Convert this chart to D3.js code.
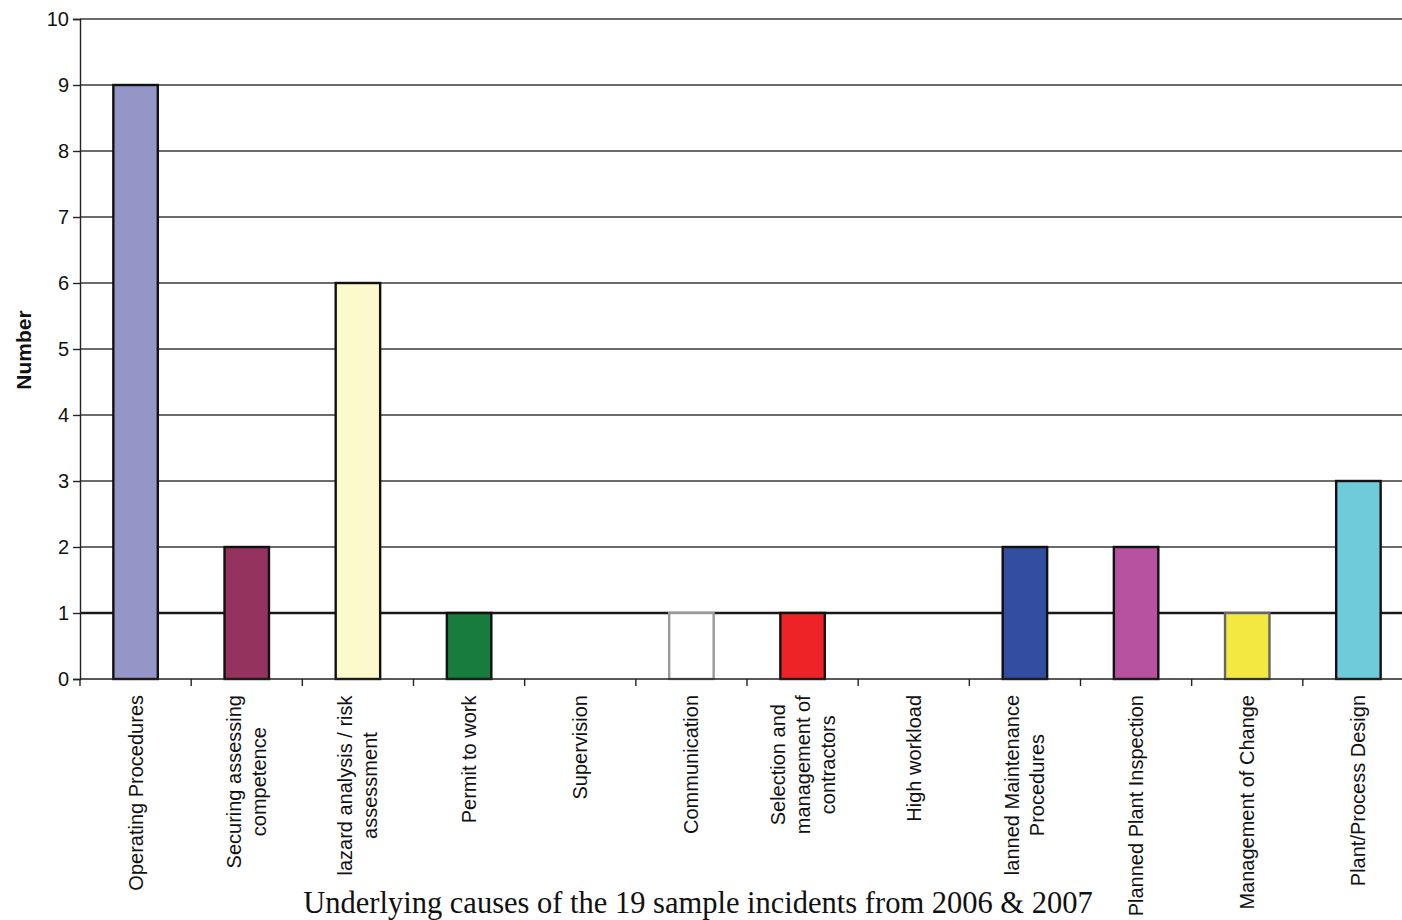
<!DOCTYPE html>
<html><head><meta charset="utf-8">
<script src="https://cdn.jsdelivr.net/npm/d3@7"></script>
<style>body{margin:0;background:#fff}svg{display:block}</style>
</head><body>
<script>
const categories = [
  ["Operating Procedures"],
  ["Securing assessing","competence"],
  ["lazard analysis / risk","assessment"],
  ["Permit to work"],
  ["Supervision"],
  ["Communication"],
  ["Selection and","management of","contractors"],
  ["High workload"],
  ["lanned Maintenance","Procedures"],
  ["Planned Plant Inspection"],
  ["Management of Change"],
  ["Plant/Process Design"]
];
const values = [9, 2, 6, 1, 0, 1, 1, 0, 2, 2, 1, 3];
const colors = ["#9595c8","#95335f","#fcfacc","#177c3d","#ffffff","#ffffff","#ee2328","#ffffff","#334ea0","#b652a0","#f2e841","#6fcbd9"];
const strokes = ["#111","#111","#111","#111","#111","#999","#111","#111","#111","#111","#666","#111"];
const yTicks = [0,1,2,3,4,5,6,7,8,9,10];
const yLabel = "Number";
const title = "Underlying causes of the 19 sample incidents from 2006 & 2007";

const W = 1402, H = 920;
const m = {l:80, t:19, b:241};
const plotRight = 1414; // plot continues slightly past the visible edge
const svg = d3.select("body").append("svg").attr("width", W).attr("height", H);

const xs = d3.scaleBand().domain(d3.range(categories.length)).range([m.l, plotRight]);
const y = d3.scaleLinear().domain([0, 10]).range([H - m.b, m.t]);

// gridlines
svg.append("g").selectAll("line").data(yTicks.filter(d => d > 0)).join("line")
  .attr("x1", m.l).attr("x2", W).attr("y1", d => y(d)).attr("y2", d => y(d))
  .attr("stroke", d => d === 1 ? "#1a1a1a" : "#3a3a3a").attr("stroke-width", d => d === 1 ? 2.4 : 1.4);

// bars
svg.append("g").selectAll("rect").data(values).join("rect")
  .attr("x", (d, i) => xs(i) + xs.bandwidth() * 0.3)
  .attr("width", xs.bandwidth() * 0.4)
  .attr("y", d => y(d)).attr("height", d => y(0) - y(d))
  .attr("fill", (d, i) => colors[i]).attr("stroke", (d, i) => strokes[i]).attr("stroke-width", 2.4)
  .style("display", d => d > 0 ? null : "none");

// y axis
const ya = svg.append("g").attr("transform", `translate(${m.l},0)`)
  .call(d3.axisLeft(y).tickValues(yTicks).tickSize(7).tickPadding(4).tickFormat(d3.format("d")));
ya.select(".domain").attr("stroke", "#222").attr("stroke-width", 1.4);
ya.selectAll(".tick line").attr("stroke", "#222").attr("stroke-width", 1.4);
ya.selectAll(".tick text").attr("font-family", "Liberation Sans, Arial, sans-serif").attr("font-size", 20).attr("fill", "#111");

// x axis line + ticks at band boundaries
svg.append("line").attr("x1", m.l).attr("x2", W).attr("y1", y(0)).attr("y2", y(0)).attr("stroke", "#222").attr("stroke-width", 1.5);
svg.append("g").selectAll("line").data(d3.range(categories.length)).join("line")
  .attr("x1", i => xs(i)).attr("x2", i => xs(i)).attr("y1", y(0)).attr("y2", y(0) + 7)
  .attr("stroke", "#222").attr("stroke-width", 1.4);

// category labels
const lh = 25;
const lg = svg.append("g").attr("font-family", "Liberation Sans, Arial, sans-serif").attr("font-size", 20).attr("fill", "#111");
categories.forEach((lines, i) => {
  const cx = xs(i) + xs.bandwidth() / 2;
  const n = lines.length;
  const t = lg.append("text").attr("transform", `translate(${cx},695) rotate(-90)`).attr("text-anchor", "middle");
  lines.forEach((s, j) => {
    t.append("tspan").attr("x", 0).attr("y", (j - (n - 1) / 2) * lh + 7).text(s);
  });
  const bb = t.node().getBBox();
  t.attr("transform", `translate(${cx},695) rotate(-90) translate(${-bb.width / 2},0)`);
});

// y label
svg.append("text").attr("transform", "translate(31,350) rotate(-90)").attr("text-anchor", "middle")
  .attr("font-family", "Liberation Sans, Arial, sans-serif").attr("font-weight", "bold").attr("font-size", 21).attr("fill", "#111").text(yLabel);

// title
svg.append("text").attr("x", 698).attr("y", 913).attr("text-anchor", "middle")
  .attr("font-family", "Liberation Serif, Times New Roman, serif").attr("font-size", 30.5).attr("fill", "#111").text(title);
</script>
</body></html>
